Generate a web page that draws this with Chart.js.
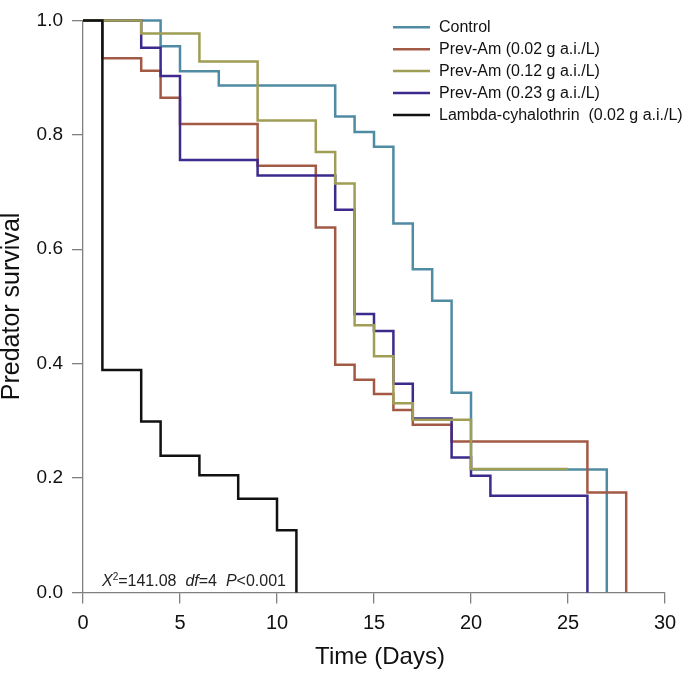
<!DOCTYPE html>
<html>
<head>
<meta charset="utf-8">
<script src="https://cdn.jsdelivr.net/npm/chart.js@4.4.1/dist/chart.umd.min.js"></script>
<style>
  html, body { margin: 0; padding: 0; background: #fff; }
  #wrap { width: 685px; height: 674px; position: relative; }
</style>
</head>
<body>
<div id="wrap"><canvas id="km" width="685" height="674"></canvas></div>
<script>
// Kaplan-Meier steps (day of drop, survival after drop)
var controlDays = [0, 4, 5, 7, 13, 14, 15, 16, 17, 18, 19, 20, 27];
var controlSurv = [1, 0.955, 0.911, 0.886, 0.832, 0.805, 0.779, 0.645, 0.565, 0.510, 0.349, 0.215, 0];

var low002Days = [0, 1, 3, 4, 5, 9, 12, 13, 14, 15, 16, 17, 19, 26, 28];
var low002Surv = [1, 0.934, 0.912, 0.865, 0.819, 0.746, 0.638, 0.398, 0.372, 0.347, 0.319, 0.293, 0.264, 0.175, 0];

var mid012Days = [0, 3, 6, 9, 12, 13, 14, 15, 16, 17, 20, 25];
var mid012Surv = [1, 0.977, 0.928, 0.825, 0.770, 0.715, 0.467, 0.413, 0.331, 0.302, 0.216, 0.216];

var high023Days = [0, 3, 4, 5, 9, 13, 14, 15, 16, 17, 19, 20, 21, 26];
var high023Surv = [1, 0.952, 0.903, 0.756, 0.729, 0.669, 0.487, 0.457, 0.365, 0.304, 0.236, 0.204, 0.169, 0];

var lambdaDays = [0, 1, 3, 4, 6, 8, 10, 11];
var lambdaSurv = [1, 0.389, 0.299, 0.239, 0.205, 0.164, 0.109, 0];

var seriesLabels = [
  'Control',
  'Prev-Am (0.02 g a.i./L)',
  'Prev-Am (0.12 g a.i./L)',
  'Prev-Am (0.23 g a.i./L)',
  'Lambda-cyhalothrin  (0.02 g a.i./L)'
];
var seriesColors = ['#4f8ba3', '#a35a44', '#a09d55', '#3d2a8c', '#111111'];

var xTicks = [0, 5, 10, 15, 20, 25, 30];
var yTicks = [0, 0.2, 0.4, 0.6, 0.8, 1.0];

var FONT = '"Liberation Sans", Arial, sans-serif';

function toPoints(days, surv) {
  return days.map(function (d, i) { return { x: d, y: surv[i] }; });
}

var allDays = [controlDays, low002Days, mid012Days, high023Days, lambdaDays];
var allSurv = [controlSurv, low002Surv, mid012Surv, high023Surv, lambdaSurv];
var drawOrder = [4, 3, 1, 2, 0]; // lower is drawn on top

var datasets = [];
for (var i = 0; i < seriesLabels.length; i++) {
  datasets.push({
    label: seriesLabels[i],
    data: toPoints(allDays[i], allSurv[i]),
    borderColor: seriesColors[i],
    backgroundColor: seriesColors[i],
    borderWidth: 2.5,
    stepped: 'before',
    pointRadius: 0,
    fill: false,
    clip: false,
    order: drawOrder[i]
  });
}

// legend, statistics text and axis titles drawn by hand
var extras = {
  id: 'extras',
  afterDraw: function (chart) {
    var ctx = chart.ctx;
    var area = chart.chartArea;
    ctx.save();

    // legend
    ctx.font = '16px ' + FONT;
    ctx.textBaseline = 'middle';
    ctx.textAlign = 'left';
    for (var i = 0; i < seriesLabels.length; i++) {
      var y = 27.3 + i * 21.9;
      ctx.strokeStyle = seriesColors[i];
      ctx.lineWidth = 2.5;
      ctx.beginPath();
      ctx.moveTo(393, y);
      ctx.lineTo(430, y);
      ctx.stroke();
      ctx.fillStyle = '#111';
      ctx.fillText(seriesLabels[i], 439, y + 0.5);
    }

    // chi-square annotation
    ctx.textBaseline = 'alphabetic';
    var x = 102, base = 586;
    var parts = [
      { t: 'X', f: 'italic 16px ' + FONT, dy: 0 },
      { t: '2', f: '10px ' + FONT, dy: -6 },
      { t: '=141.08  ', f: '16px ' + FONT, dy: 0 },
      { t: 'df', f: 'italic 16px ' + FONT, dy: 0 },
      { t: '=4  ', f: '16px ' + FONT, dy: 0 },
      { t: 'P', f: 'italic 16px ' + FONT, dy: 0 },
      { t: '<0.001', f: '16px ' + FONT, dy: 0 }
    ];
    ctx.fillStyle = '#222';
    parts.forEach(function (p) {
      ctx.font = p.f;
      ctx.fillText(p.t, x, base + p.dy);
      x += ctx.measureText(p.t).width;
    });

    // axis titles
    ctx.fillStyle = '#111';
    ctx.font = '24px ' + FONT;
    ctx.textAlign = 'center';
    ctx.textBaseline = 'middle';
    ctx.fillText('Time (Days)', (area.left + area.right) / 2 + 6, 657);

    ctx.translate(12, (area.top + area.bottom) / 2);
    ctx.rotate(-Math.PI / 2);
    ctx.font = '25px ' + FONT;
    ctx.fillText('Predator survival', 0, 0);
    ctx.restore();
  }
};

var ctx = document.getElementById('km').getContext('2d');
var myChartKM = new Chart(ctx, {
  type: 'line',
  data: { datasets: datasets },
  options: {
    responsive: false,
    animation: false,
    devicePixelRatio: 1,
    layout: { padding: { top: 10.7, right: 20, left: 0, bottom: 0 } },
    plugins: {
      legend: { display: false },
      tooltip: { enabled: false }
    },
    scales: {
      x: {
        type: 'linear',
        min: 0,
        max: 30,
        afterBuildTicks: function (scale) {
          scale.ticks = xTicks.map(function (v) { return { value: v }; });
        },
        afterFit: function (scale) { scale.height = 81.5; },
        border: { display: true, color: '#808080', width: 1.3 },
        grid: { drawOnChartArea: false, drawTicks: true, tickLength: 11, color: '#808080', lineWidth: 1.3 },
        ticks: { color: '#111', font: { family: FONT, size: 20 }, padding: 8, maxRotation: 0 }
      },
      y: {
        type: 'linear',
        min: 0,
        max: 1,
        afterBuildTicks: function (scale) {
          scale.ticks = yTicks.map(function (v) { return { value: v }; });
        },
        afterFit: function (scale) { scale.width = 83; },
        border: { display: true, color: '#808080', width: 1.3 },
        grid: { drawOnChartArea: false, drawTicks: true, tickLength: 11, color: '#808080', lineWidth: 1.3 },
        ticks: {
          color: '#111',
          font: { family: FONT, size: 19 },
          padding: 9,
          callback: function (v) { return Number(v).toFixed(1); }
        }
      }
    }
  },
  plugins: [extras]
});
</script>
</body>
</html>
